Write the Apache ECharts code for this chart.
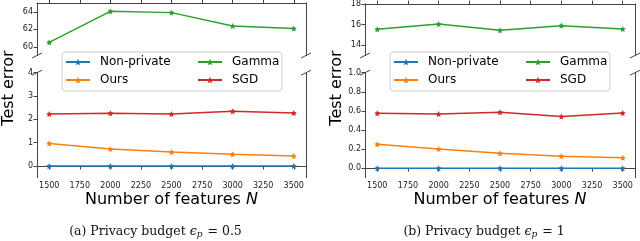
<!DOCTYPE html>
<html><head><meta charset="utf-8">
<script src="https://cdn.jsdelivr.net/npm/echarts@6/dist/echarts.min.js"></script>
<style>html,body{margin:0;padding:0;background:#fff}#c{width:640px;height:241px}</style>
</head><body><div id="c"></div>
<script>
// ---- data ----
const features = [1500, 2000, 2500, 3000, 3500];
const xTicks = [1500, 1750, 2000, 2250, 2500, 2750, 3000, 3250, 3500];
const seriesNames = ['Non-private', 'Ours', 'Gamma', 'SGD'];
// panel (a): epsilon_p = 0.5
const aNonPrivate = [0, 0, 0, 0, 0];
const aOurs = [0.97, 0.73, 0.60, 0.50, 0.43];
const aGamma = [60.5, 64.05, 63.9, 62.37, 62.08];
const aSGD = [2.23, 2.26, 2.23, 2.35, 2.27];
const aTopTicks = [60, 62, 64];
const aBotTicks = [0, 1, 2, 3, 4];
// panel (b): epsilon_p = 1
const bNonPrivate = [0, 0, 0, 0, 0];
const bOurs = [0.25, 0.20, 0.157, 0.126, 0.108];
const bGamma = [15.55, 16.05, 15.45, 15.9, 15.58];
const bSGD = [0.575, 0.568, 0.586, 0.54, 0.578];
const bTopTicks = [14, 16, 18];
const bBotTicks = [0, 0.2, 0.4, 0.6, 0.8, 1.0];

// ---- layout ----
const colors = {'Non-private':'#1f77b4', 'Ours':'#ff7f0e', 'Gamma':'#2ca02c', 'SGD':'#d62728'};
const star = 'path://M0,-10L2.94,-4.05L9.51,-3.09L4.76,1.55L5.88,8.09L0,5L-5.88,8.09L-4.76,1.55L-9.51,-3.09L-2.94,-4.05Z';
const spine = '#444';
const topY = 3, topH = 52.5, botY = 72.7, botH = 105;
const panels = [
  {left: 37, width: 269, topRange: [59, 65], botRange: [-0.5, 4], topTicks: aTopTicks, botTicks: aBotTicks,
   np: aNonPrivate, ours: aOurs, gamma: aGamma, sgd: aSGD, dec: 0, caption: '(a)', eps: '0.5', capX: 155.5, ylabX: 9},
  {left: 365, width: 270, topRange: [13, 18], botRange: [-0.1, 1.0], topTicks: bTopTicks, botTicks: bBotTicks,
   np: bNonPrivate, ours: bOurs, gamma: bGamma, sgd: bSGD, dec: 1, caption: '(b)', eps: '1', capX: 484, ylabX: 337}
];

const grid = [], xAxis = [], yAxis = [], series = [], legend = [], graphic = [];
const tickFont = {fontSize: 8, fontFamily: 'DejaVu Sans', color: '#222'};
panels.forEach((p, pi) => {
  const gTop = grid.length;
  grid.push({left: p.left, top: topY, width: p.width, height: topH});
  grid.push({left: p.left, top: botY, width: p.width, height: botH});
  [gTop, gTop + 1].forEach((g, k) => {
    const isTop = k === 0;
    xAxis.push({type: 'value', gridIndex: g, min: 1400, max: 3600, position: isTop ? 'top' : 'bottom',
      splitLine: {show: false},
      axisLine: {show: true, lineStyle: {color: spine, width: 1}},
      axisTick: {show: true, length: 3.5, inside: false, customValues: xTicks, lineStyle: {color: spine}},
      axisLabel: {show: !isTop, customValues: xTicks, margin: 4, formatter: v => String(v), ...tickFont}});
    const rng = isTop ? p.topRange : p.botRange;
    const ticks = isTop ? p.topTicks : p.botTicks;
    const dec = isTop ? 0 : p.dec;
    yAxis.push({type: 'value', gridIndex: g, min: rng[0], max: rng[1], position: 'left',
      splitLine: {show: false},
      axisLine: {show: true, lineStyle: {color: spine, width: 1}},
      axisTick: {show: true, length: 3.5, customValues: ticks, lineStyle: {color: spine}},
      axisLabel: {show: true, customValues: ticks, margin: 4, formatter: v => Number(v).toFixed(dec), ...tickFont}});
    yAxis.push({type: 'value', gridIndex: g, min: rng[0], max: rng[1], position: 'right',
      splitLine: {show: false}, axisTick: {show: false}, axisLabel: {show: false},
      axisLine: {show: true, lineStyle: {color: spine, width: 1}}});
  });
  const mk = (name, arr, g) => ({
    name, type: 'line', xAxisIndex: g, yAxisIndex: g * 2,
    data: features.map((f, i) => [f, arr[i]]),
    symbol: star, symbolSize: 6, showSymbol: true,
    lineStyle: {width: 1.5, color: colors[name]},
    itemStyle: {color: colors[name]},
    animation: false, silent: true
  });
  series.push(mk('Non-private', p.np, gTop + 1));
  series.push(mk('Ours', p.ours, gTop + 1));
  series.push(mk('Gamma', p.gamma, gTop));
  series.push(mk('SGD', p.sgd, gTop + 1));

  // legend frame + two columns
  graphic.push({type: 'rect', z: 10, shape: {x: p.left + 25, y: 52, width: 220, height: 39, r: 3},
    style: {fill: 'rgba(255,255,255,0.85)', stroke: '#cccccc', lineWidth: 1}});
  const lg = (data, left) => ({data, orient: 'vertical', left, top: 56, itemGap: 6, itemWidth: 24, itemHeight: 8,
    padding: 0, selectedMode: false, z: 20,
    textStyle: {fontSize: 12, fontFamily: 'DejaVu Sans', color: '#000', padding: [0, 0, 0, 5]}});
  legend.push(lg(['Non-private', 'Ours'], p.left + 28));
  legend.push(lg(['Gamma', 'SGD'], p.left + 160));

  // axis break marks
  [p.left, p.left + p.width].forEach(x => {
    [topY + topH, botY].forEach(y => {
      graphic.push({type: 'line', z: 5, shape: {x1: x - 5, y1: y + 2.5, x2: x + 5, y2: y - 2.5},
        style: {stroke: spine, lineWidth: 1}});
    });
  });
  // x axis title
  graphic.push({type: 'text', z: 5, x: p.left + p.width / 2, y: 200,
    style: {text: '{n|Number of features }{i|N}', align: 'center', verticalAlign: 'middle',
      rich: {n: {fontSize: 16, fontFamily: 'DejaVu Sans', fill: '#000'},
             i: {fontSize: 16, fontFamily: 'DejaVu Sans', fontStyle: 'italic', fill: '#000'}}}});
  // y axis title
  graphic.push({type: 'text', z: 5, x: p.ylabX, y: 88, rotation: Math.PI / 2,
    style: {text: 'Test error', align: 'center', verticalAlign: 'middle', fontSize: 16,
      fontFamily: 'DejaVu Sans', fill: '#000'}});
  // caption
  graphic.push({type: 'text', z: 5, x: p.capX, y: 233,
    style: {text: '{n|' + p.caption + ' Privacy budget }{e|ϵ}{s|p}{n| = ' + p.eps + '}',
      align: 'center', verticalAlign: 'middle',
      rich: {n: {fontSize: 12.5, fontFamily: 'DejaVu Serif', fill: '#111', verticalAlign: 'top', lineHeight: 16},
             e: {fontSize: 12.5, fontFamily: 'DejaVu Serif', fontStyle: 'italic', fill: '#111', verticalAlign: 'top', lineHeight: 16},
             s: {fontSize: 9, fontFamily: 'DejaVu Serif', fontStyle: 'italic', fill: '#111', verticalAlign: 'top', padding: [5, 1, 0, 0]}}}});
});

const chart = echarts.init(document.getElementById('c'), null, {renderer: 'canvas'});
chart.setOption({animation: false, backgroundColor: '#fff', grid, xAxis, yAxis, series, legend, graphic});
</script></body></html>
